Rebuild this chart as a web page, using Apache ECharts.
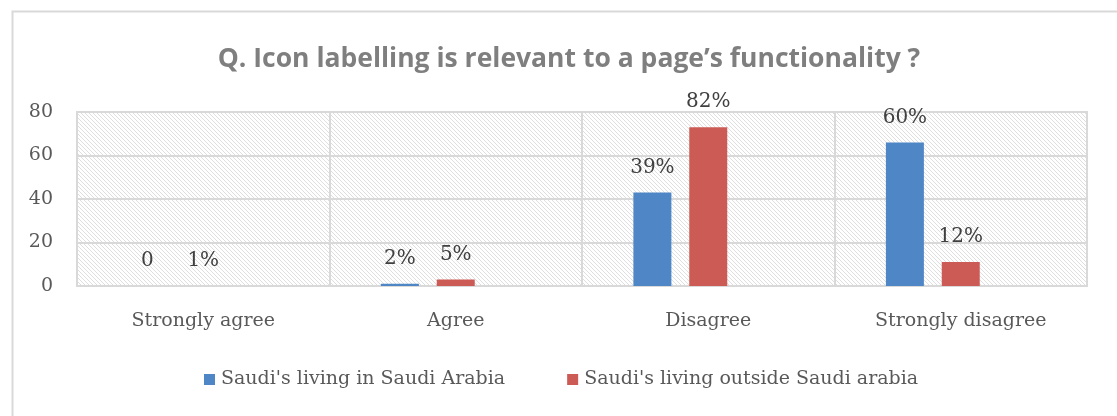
<!DOCTYPE html>
<html>
<head>
<meta charset="utf-8">
<style>
  html, body { margin: 0; padding: 0; background: #ffffff; }
  #chart { width: 1117px; height: 416px; }
</style>
<script src="https://cdn.jsdelivr.net/npm/echarts@6/dist/echarts.min.js"></script>
</head>
<body>
<div id="chart"></div>
<script>
// Survey answers
const categories = ['Strongly agree', 'Agree', 'Disagree', 'Strongly disagree'];
const seriesNames = ["Saudi's living in Saudi Arabia", "Saudi's living outside Saudi arabia"];

// Respondent counts per answer
const insideCounts = [0, 1, 43, 66];
const outsideCounts = [0, 3, 73, 11];

// Share of each group, printed above the bars
const insideShares = ['0', '2%', '39%', '60%'];
const outsideShares = ['1%', '5%', '82%', '12%'];

// Value axis ticks
const yTicks = [0, 20, 40, 60, 80];

// Fine diagonal hatch for the plot background
function hatchPattern() {
  const c = document.createElement('canvas');
  c.width = 4; c.height = 4;
  const ctx = c.getContext('2d');
  ctx.fillStyle = '#ffffff';
  ctx.fillRect(0, 0, 4, 4);
  ctx.strokeStyle = '#dedede';
  ctx.lineWidth = 1;
  ctx.beginPath();
  ctx.moveTo(-1, -1); ctx.lineTo(5, 5);
  ctx.moveTo(-1, 3); ctx.lineTo(1, 5);
  ctx.moveTo(3, -1); ctx.lineTo(5, 1);
  ctx.stroke();
  return { image: c, repeat: 'repeat' };
}

const serifFont = '"DejaVu Serif", "Liberation Serif", serif';
const textGray = '#595959';

const chart = echarts.init(document.getElementById('chart'), null, { renderer: 'canvas' });

function shareLabel(shares) {
  return {
    show: true,
    position: 'top',
    distance: 15,
    fontFamily: serifFont,
    fontSize: 20,
    color: '#404040',
    formatter: p => shares[p.dataIndex]
  };
}

chart.setOption({
  animation: false,
  backgroundColor: '#ffffff',
  graphic: [{
    type: 'rect',
    left: 10, top: 9,
    shape: { width: 1130, height: 430 },
    style: { fill: null, stroke: '#d9d9d9', lineWidth: 2 },
    silent: true,
    z: -1
  }],
  title: {
    text: 'Q. Icon labelling is relevant to a page\u2019s functionality ?',
    left: 564,
    textAlign: 'center',
    top: 41,
    textStyle: {
      fontFamily: '"Open Sans", Lato, sans-serif',
      fontWeight: 'bold',
      fontSize: 26.5,
      color: '#7f7f7f'
    }
  },
  legend: {
    data: seriesNames,
    left: 199,
    top: 365,
    icon: 'rect',
    itemWidth: 11,
    itemHeight: 11,
    itemGap: 62,
    textStyle: {
      fontFamily: serifFont,
      fontSize: 19,
      color: textGray,
      padding: [0, 0, 0, 1]
    }
  },
  grid: {
    left: 77,
    right: 30,
    top: 112,
    bottom: 130,
    show: true,
    backgroundColor: hatchPattern(),
    borderColor: '#d9d9d9',
    borderWidth: 2
  },
  xAxis: {
    type: 'category',
    data: categories,
    axisLine: { lineStyle: { color: '#d9d9d9', width: 2 } },
    axisTick: { show: false },
    splitLine: { show: true, lineStyle: { color: '#d9d9d9', width: 2 } },
    axisLabel: {
      margin: 26,
      fontFamily: serifFont,
      fontSize: 19,
      color: textGray
    }
  },
  yAxis: {
    type: 'value',
    min: yTicks[0],
    max: yTicks[yTicks.length - 1],
    interval: yTicks[1] - yTicks[0],
    axisLine: { show: false },
    axisTick: { show: false },
    splitLine: { lineStyle: { color: '#d9d9d9', width: 2 } },
    axisLabel: {
      margin: 24,
      fontFamily: serifFont,
      fontSize: 19,
      color: textGray
    }
  },
  series: [
    {
      name: seriesNames[0],
      type: 'bar',
      data: insideCounts,
      barWidth: 38,
      barGap: '47%',
      itemStyle: { color: '#4F86C6' },
      label: shareLabel(insideShares)
    },
    {
      name: seriesNames[1],
      type: 'bar',
      data: outsideCounts,
      barWidth: 38,
      barGap: '47%',
      itemStyle: { color: '#CD5B55' },
      label: shareLabel(outsideShares)
    },
    {
      // empty third slot keeps the two bars left of each category centre
      name: 'spacer',
      type: 'bar',
      data: categories.map(() => null),
      barWidth: 38,
      barGap: '47%',
      silent: true
    }
  ]
});
</script>
</body>
</html>
